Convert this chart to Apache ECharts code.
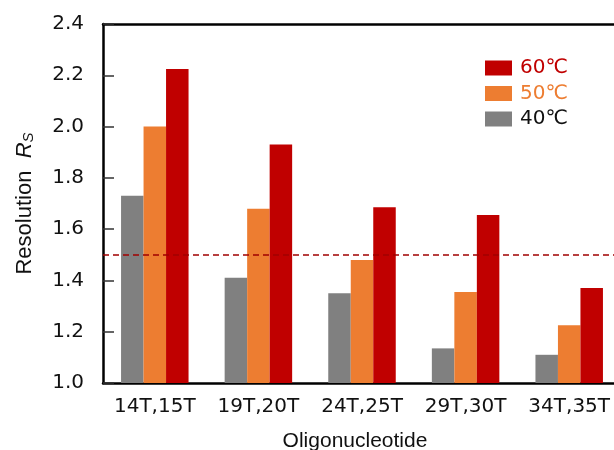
<!DOCTYPE html>
<html>
<head>
<meta charset="utf-8">
<script src="https://cdn.jsdelivr.net/npm/echarts@6/dist/echarts.min.js"></script>
<style>
  html, body { margin: 0; padding: 0; background: #fff; }
  #chart { width: 614px; height: 450px; }
</style>
</head>
<body>
<div id="chart"></div>
<script>
// Resolution Rs of oligonucleotide pairs at three column temperatures
const categories = ['14T,15T', '19T,20T', '24T,25T', '29T,30T', '34T,35T'];
const rs40 = [1.73, 1.41, 1.35, 1.135, 1.11];
const rs50 = [2.00, 1.68, 1.48, 1.355, 1.225];
const rs60 = [2.225, 1.93, 1.685, 1.655, 1.37];
const yTicks = [1.0, 1.2, 1.4, 1.6, 1.8, 2.0, 2.2, 2.4];
const threshold = 1.5;

const tickFont = 'DejaVu Sans, Verdana, sans-serif';
const nameFont = 'Liberation Sans, Arial, sans-serif';

const chart = echarts.init(document.getElementById('chart'), null, { renderer: 'canvas' });

const barStyle = (color) => ({
  type: 'bar',
  barWidth: 22.5,
  barGap: '0%',
  itemStyle: { color: color },
  emphasis: { disabled: true }
});

chart.setOption({
  animation: false,
  backgroundColor: '#ffffff',
  grid: { left: 103, top: 24, width: 518, height: 359, containLabel: false, outerBoundsMode: 'none' },
  legend: {
    orient: 'vertical',
    left: 480,
    top: 53,
    itemWidth: 27,
    itemHeight: 15,
    itemGap: 5.5,
    icon: 'rect',
    textStyle: { fontFamily: tickFont, fontSize: 20, padding: [0, 0, 0, 3] },
    data: [
      { name: '60℃', textStyle: { color: '#C00000' } },
      { name: '50℃', textStyle: { color: '#ED7D31' } },
      { name: '40℃', textStyle: { color: '#111111' } }
    ]
  },
  xAxis: [
    {
      type: 'category',
      data: categories,
      position: 'bottom',
      axisLine: { lineStyle: { color: '#000', width: 2.5 } },
      axisTick: { inside: true, length: 10, lineStyle: { color: '#000', width: 1.5 } },
      axisLabel: { color: '#111', fontFamily: tickFont, fontSize: 20, margin: 14, interval: 0 },
      name: 'Oligonucleotide',
      nameLocation: 'middle',
      nameGap: 48,
      nameTextStyle: { color: '#111', fontFamily: nameFont, fontSize: 21, padding: [0, 14, 0, 0] }
    },
    {
      type: 'category',
      data: categories,
      position: 'top',
      axisLine: { lineStyle: { color: '#000', width: 2.5 } },
      axisTick: { show: false },
      axisLabel: { show: false }
    }
  ],
  yAxis: {
    type: 'value',
    min: yTicks[0],
    max: yTicks[yTicks.length - 1],
    interval: 0.2,
    axisLine: { show: true, lineStyle: { color: '#000', width: 2.5 } },
    axisTick: { show: true, inside: true, length: 11, lineStyle: { color: '#333', width: 1.5 } },
    splitLine: { show: false },
    axisLabel: {
      color: '#111', fontFamily: tickFont, fontSize: 20, margin: 19,
      formatter: (v) => v.toFixed(1)
    },
    name: 'Resolution  {it|R}{sub|S}',
    nameLocation: 'middle',
    nameGap: 67,
    nameRotate: 90,
    nameTextStyle: {
      color: '#111', fontFamily: nameFont, fontSize: 22,
      rich: {
        it: { fontFamily: nameFont, fontSize: 22, fontStyle: 'italic', color: '#111' },
        sub: { fontFamily: nameFont, fontSize: 15, fontStyle: 'italic', color: '#111', verticalAlign: 'bottom', padding: [8, 0, 0, 0] }
      }
    }
  },
  series: [
    Object.assign(barStyle('#808080'), { name: '40℃', data: rs40 }),
    Object.assign(barStyle('#ED7D31'), { name: '50℃', data: rs50 }),
    Object.assign(barStyle('#C00000'), {
      name: '60℃',
      data: rs60,
      markLine: {
        silent: true,
        symbol: 'none',
        label: { show: false },
        lineStyle: { color: '#A00000', width: 1.5, type: [6, 4] },
        data: [{ yAxis: threshold }]
      }
    })
  ]
});
</script>
</body>
</html>
